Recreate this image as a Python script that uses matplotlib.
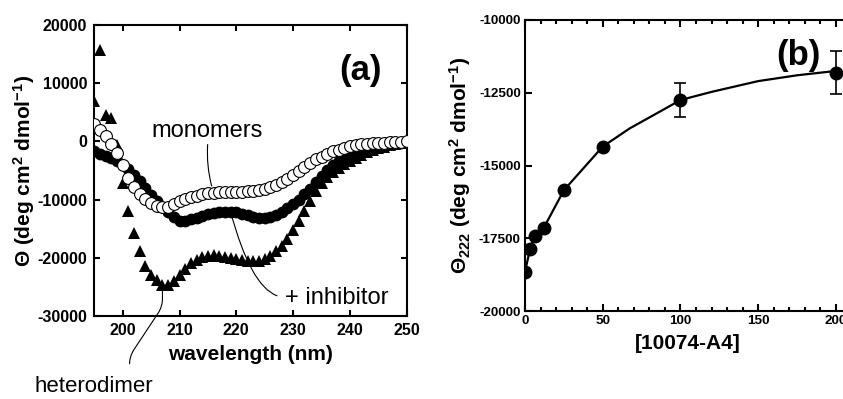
import numpy as np
import matplotlib.pyplot as plt

plt.rcParams.update({
    "font.family": "Liberation Sans",
    "font.weight": "bold",
    "axes.labelweight": "bold",
    "mathtext.fontset": "custom",
    "mathtext.rm": "Liberation Sans:bold",
    "mathtext.bf": "Liberation Sans:bold",
    "mathtext.default": "bf",
    "axes.unicode_minus": False,
    "axes.linewidth": 1.5,
})

# CD spectra, molar ellipticity vs wavelength
wavelength = np.arange(195, 251)

monomers = [
    3000, 2000, 900, -400, -2000, -4000, -6300, -7800, -9000, -9900,
    -10600, -11100, -11300, -11200, -10800, -10300, -9900, -9600, -9300, -9100,
    -8900, -8800, -8700, -8700, -8700, -8700, -8700, -8600, -8500, -8400,
    -8200, -7900, -7500, -7000, -6400, -5800, -5100, -4400, -3700, -3100,
    -2600, -2100, -1700, -1400, -1100, -850, -650, -500, -400, -300,
    -250, -200, -150, -100, -50, 0,
]

inhibitor = [
    -1700, -2100, -2500, -2900, -3300, -4000, -4800, -5700, -6800, -8000,
    -9200, -10300, -11200, -12100, -13000, -13600, -13700, -13400, -13100, -12800,
    -12500, -12300, -12200, -12100, -12100, -12200, -12400, -12700, -13000, -13200,
    -13200, -13000, -12600, -12100, -11500, -10800, -10000, -9100, -8100, -7000,
    -5900, -4900, -4000, -3300, -2700, -2200, -1800, -1500, -1250, -1000,
    -800, -650, -500, -350, -200, -100,
]

heterodimer = [
    6900, 15700, 4600, 4000, -600, -7200, -12000, -15700, -18900, -21400,
    -22900, -23800, -24600, -24700, -24000, -23000, -21900, -20900, -20300, -19900,
    -19700, -19600, -19700, -19800, -20000, -20200, -20400, -20500, -20600, -20500,
    -20200, -19700, -18900, -17900, -16700, -15200, -13600, -11900, -10200, -8600,
    -7200, -6200, -5300, -4500, -3900, -3300, -2800, -2300, -1900, -1500,
    -1200, -900, -700, -500, -300, -150,
]

# titration: ellipticity at 222 nm vs inhibitor concentration
conc = [0, 3.125, 6.25, 12.5, 25, 50, 100, 200]
theta222 = [-18650, -17880, -17420, -17140, -15840, -14350, -12750, -11810]
theta222_err = [0, 0, 0, 0, 0, 0, 580, 750]

fit_conc = [0, 3.125, 6.25, 12.5, 19, 25, 37.5, 50, 67.5, 85, 100, 120, 150, 175, 200]
fit_theta = [-18650, -17900, -17400, -17100, -16450, -15850, -15100, -14350,
             -13720, -13200, -12750, -12470, -12100, -11900, -11750]

W, H = 843, 399
fig = plt.figure(figsize=(W / 100, H / 100), dpi=100)

# ---------------- panel (a) ----------------
ax1 = fig.add_axes([94.3 / W, (H - 316) / H, 312.4 / W, 291 / H])
ax1.plot(wavelength, heterodimer, "^", color="black", ms=9, mew=0, zorder=2)
ax1.plot(wavelength, inhibitor, "o", color="black", ms=8.5, mew=0, zorder=3)
ax1.plot(wavelength, monomers, "o", mfc="white", mec="black", ms=8.5, mew=0.8, zorder=4)

ax1.set_xlim(195, 250)
ax1.set_ylim(-30000, 20000)
ax1.set_xticks(np.arange(200, 251, 10))
ax1.set_yticks(np.arange(-30000, 20001, 10000))
ax1.tick_params(direction="in", top=True, right=True, length=4, width=1.5,
                labelsize=11.5, pad=5)
ax1.set_xlabel("wavelength (nm)", fontsize=15)
ax1.set_ylabel(r"Θ (deg cm$^{2}$ dmol$^{-1}$)", fontsize=15)
ax1.xaxis.set_label_coords(0.5, -0.1)
ax1.yaxis.set_label_coords(-0.185, 0.5)
ax1.text(0.92, 0.81, "(a)", transform=ax1.transAxes, fontsize=25,
         ha="right", va="baseline")

line_kw = dict(color="black", lw=0.8)
ax1.annotate("monomers", xy=(wavelength[21], monomers[21]), xytext=(214.8, 800),
             ha="center", va="baseline", fontsize=17, fontweight="normal",
             arrowprops=dict(arrowstyle="-", relpos=(0.51, 0), shrinkA=0, shrinkB=5,
                             connectionstyle="arc3,rad=0.1", **line_kw))
ax1.annotate("+ inhibitor", xy=(wavelength[24], inhibitor[24]), xytext=(228.6, -28000),
             ha="left", va="baseline", fontsize=17, fontweight="normal",
             annotation_clip=False,
             arrowprops=dict(arrowstyle="-", relpos=(0, 0.55), shrinkA=4, shrinkB=0,
                             connectionstyle="angle3,angleA=180,angleB=-75", **line_kw))
ax1.annotate("heterodimer", xy=(wavelength[12], heterodimer[12]), xytext=(184.5, -43100),
             ha="left", va="baseline", fontsize=16, fontweight="normal",
             annotation_clip=False,
             arrowprops=dict(arrowstyle="-", relpos=(0.8, 1), shrinkA=7, shrinkB=4,
                             connectionstyle="arc,angleA=90,angleB=-90,armA=20,armB=22,rad=8",
                             **line_kw))

# ---------------- panel (b) ----------------
ax2 = fig.add_axes([525 / W, (H - 311) / H, 326.5 / W, 291 / H])
ax2.plot(fit_conc, fit_theta, "-", color="black", lw=1.6, zorder=2)
ax2.errorbar(conc, theta222, yerr=theta222_err, fmt="o", color="black", ms=9,
             elinewidth=1.2, capsize=4, capthick=1.2, zorder=3)

ax2.set_xlim(0, 210)
ax2.set_ylim(-20000, -10000)
ax2.set_xticks(np.arange(0, 201, 50))
ax2.set_xticks(np.arange(0, 211, 10), minor=True)
ax2.set_yticks(np.arange(-20000, -9999, 2500))
ax2.tick_params(which="both", direction="in", top=True, right=True, width=1.5,
                labelsize=9.7, pad=3)
ax2.tick_params(which="major", length=5)
ax2.tick_params(which="minor", length=3)
ax2.set_xlabel("[10074-A4]", fontsize=15)
ax2.set_ylabel(r"Θ$_{222}$ (deg cm$^{2}$ dmol$^{-1}$)", fontsize=15)
ax2.xaxis.set_label_coords(0.5, -0.08)
ax2.yaxis.set_label_coords(-0.16, 0.5)
ax2.text(0.905, 0.845, "(b)", transform=ax2.transAxes, fontsize=25,
         ha="right", va="baseline")

fig.savefig("out.png", dpi=100)
